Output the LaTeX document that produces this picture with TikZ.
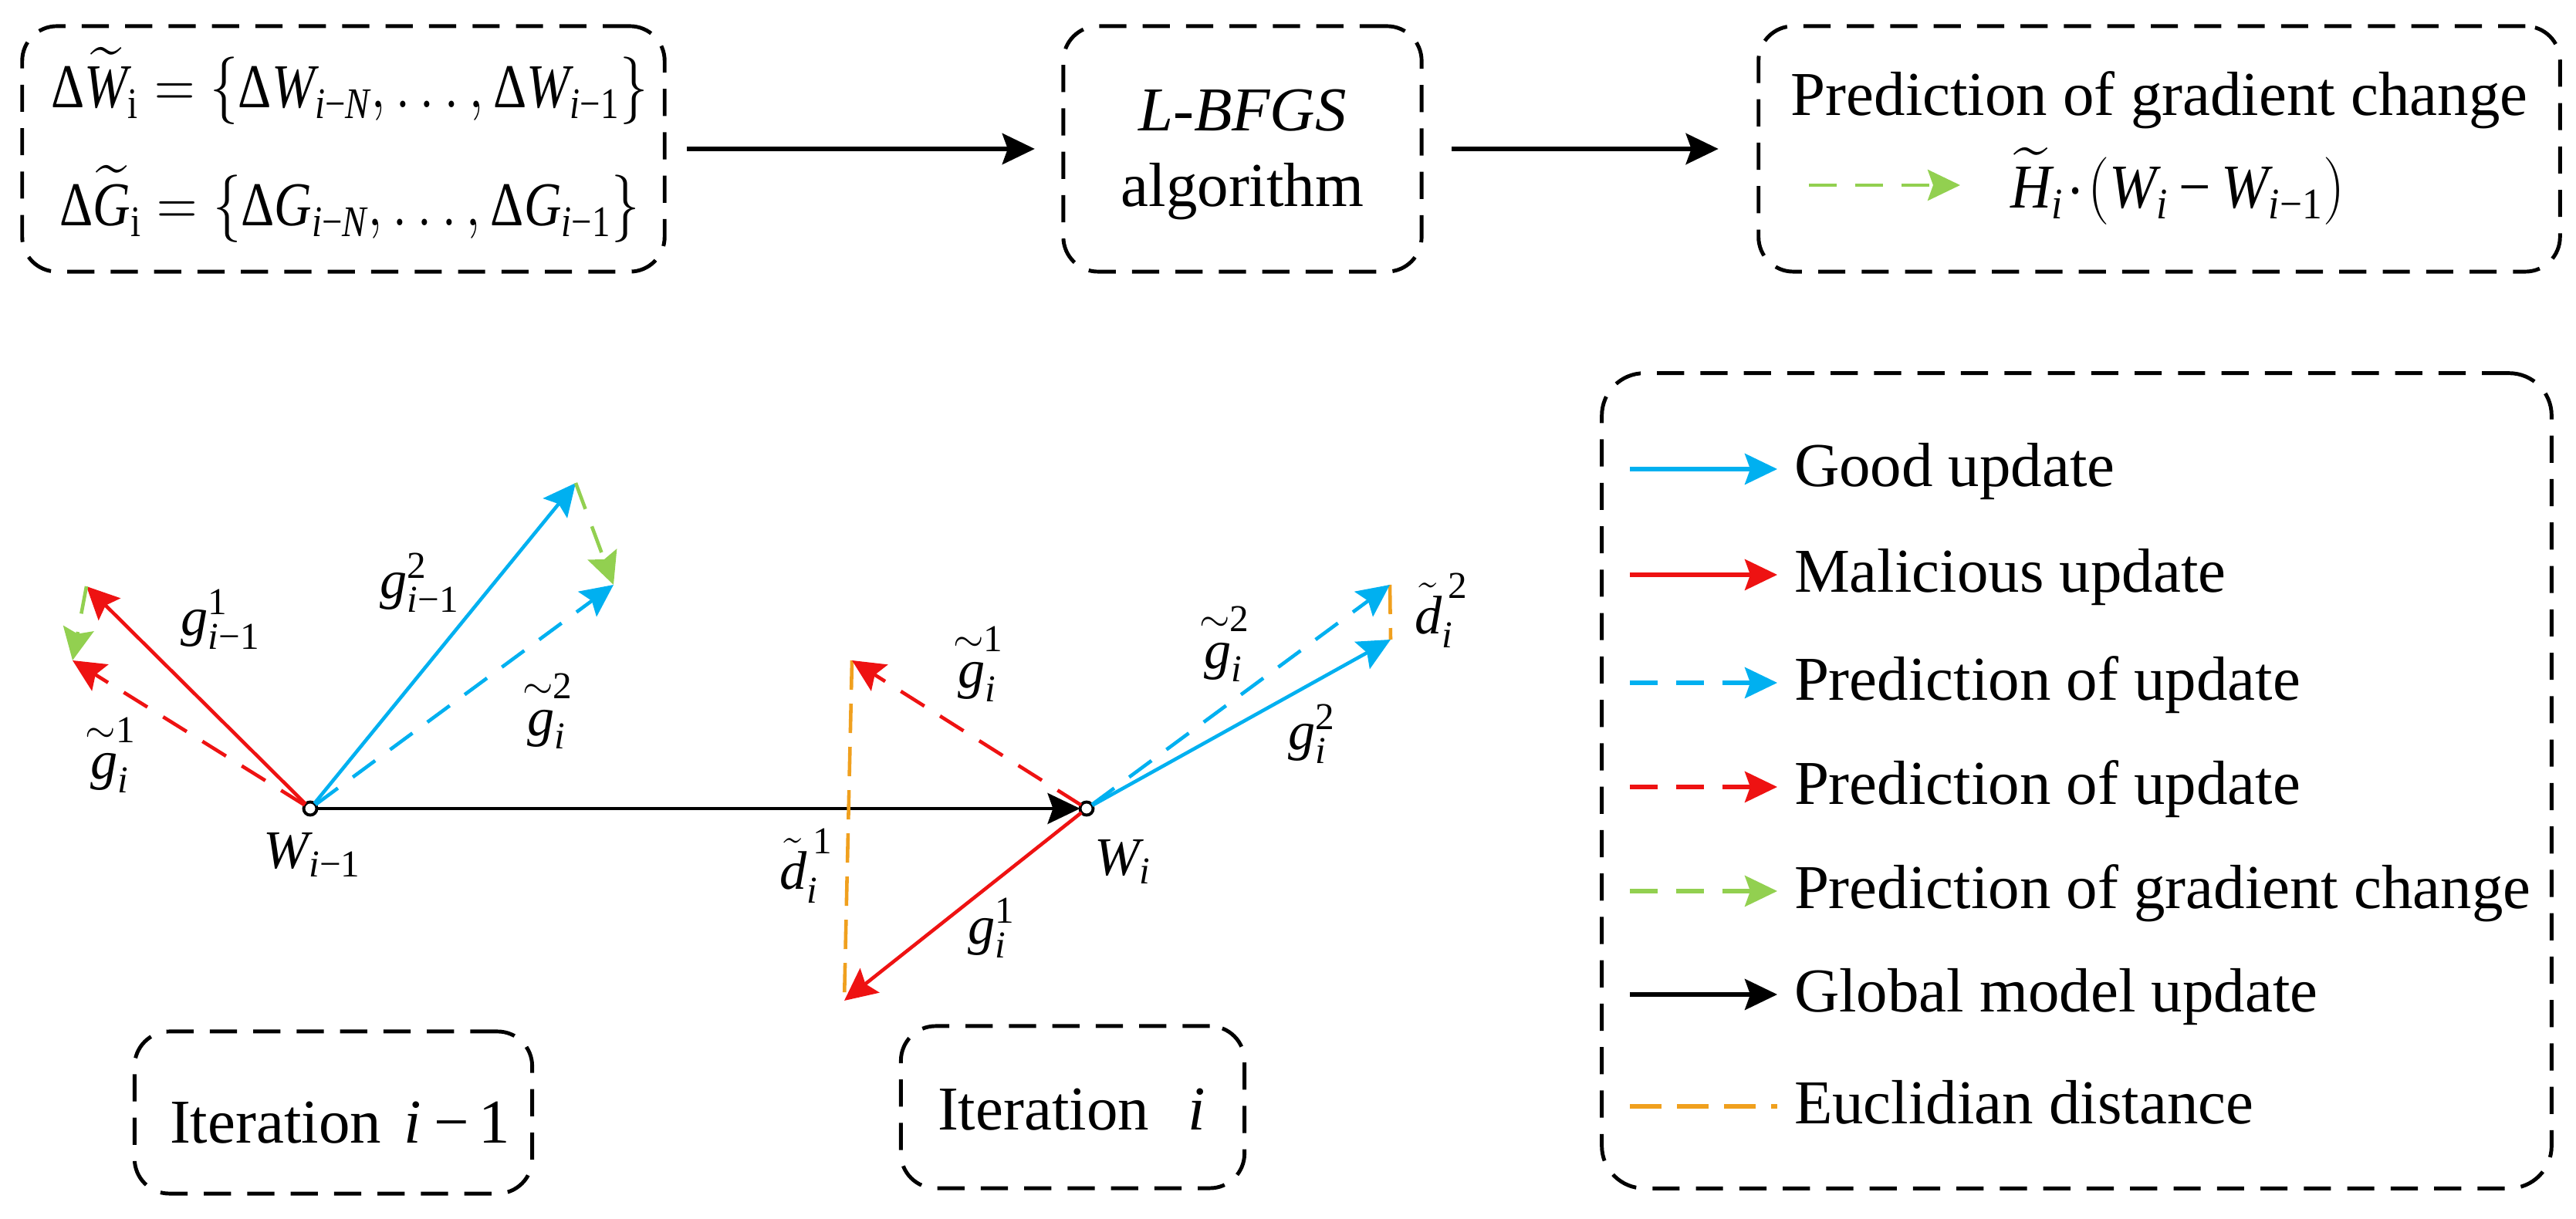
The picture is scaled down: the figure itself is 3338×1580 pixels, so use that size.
\documentclass[tikz,border=0pt]{standalone}
\usepackage{amsmath}
\usepackage{graphicx}
\usepackage{fontspec}
\setmainfont{Liberation Serif}
\usetikzlibrary{arrows.meta}
\definecolor{cblue}{RGB}{0,176,240}
\definecolor{cred}{RGB}{238,18,18}
\definecolor{cgreen}{RGB}{146,208,80}
\definecolor{corange}{RGB}{240,160,30}
\newcommand{\mv}[1]{\text{\itshape #1}}
\newcommand{\nm}[1]{\text{#1}}
\newcommand{\ione}{\text{\itshape i\upshape −1}}
\newcommand{\iN}{\text{\itshape i\upshape −\itshape N}}
\newcommand{\Dl}{\text{Δ}}
\newcommand{\gtil}[1]{\mathop{\mv{g}_{\mv{i}}}\limits^{\scriptstyle\sim\nm{#1}}}
\begin{document}
\begin{tikzpicture}[x=0.01cm,y=-0.01cm,
  every node/.style={font=\fontsize{23}{27}\selectfont, inner sep=0pt, outer sep=0pt},
  lab/.style={font=\fontsize{20}{24}\selectfont},
  dbox/.style={draw, line width=1.4pt, dash pattern=on 10pt off 6pt, rounded corners=0.45cm},
  hd/.style={-{Stealth[length=0.42cm,width=0.40cm,inset=0.07cm]}},
  karrT/.style={hd, black, line width=1.7pt},
  karr/.style={hd, black, line width=1.2pt},
  bsol/.style={hd, cblue, line width=1.3pt},
  rsol/.style={hd, cred, line width=1.3pt},
  bdash/.style={bsol, dash pattern=on 0.36cm off 0.24cm},
  rdash/.style={rsol, dash pattern=on 0.36cm off 0.24cm},
  gdash/.style={hd, cgreen, line width=1.3pt, dash pattern=on 0.36cm off 0.24cm},
  odash/.style={corange, line width=1.3pt, dash pattern=on 0.38cm off 0.18cm},
  lsol/.style={line width=1.5pt},
  pt/.style={circle, draw, black, fill=white, line width=1.1pt, minimum size=0.17cm}
]
\useasboundingbox (0,0) rectangle (3338,1580);

% ---------- top row ----------
\node[dbox, minimum width=8.32cm, minimum height=3.18cm] (boxA) at (445,193) {};
\node[dbox, minimum width=4.64cm, minimum height=3.18cm] (boxB) at (1610,193) {};
\node[dbox, minimum width=10.38cm, minimum height=3.18cm] (boxC) at (2798,193) {};

\draw[karrT, shorten <=0.29cm, shorten >=0.37cm] (boxA) -- (boxB);
\draw[karrT, shorten <=0.39cm, shorten >=0.52cm] (boxB) -- (boxC);

\node[anchor=base] (fW) at (453,140) {\scalebox{0.83}[1]{$\Dl\widetilde{\mv{W}}_{\nm{i}}=\{\Dl\mv{W}_{\iN},\ldots,\Dl\mv{W}_{\ione}\}$}};
\node[anchor=base] (fG) at (453,293) {\scalebox{0.83}[1]{$\Dl\widetilde{\mv{G}}_{\nm{i}}=\{\Dl\mv{G}_{\iN},\ldots,\Dl\mv{G}_{\ione}\}$}};
\node[anchor=base] (lb) at (1610,170) {\textit{L-BFGS}};
\node[anchor=base] (alg) at (1610,268) {algorithm};
\node[anchor=base] (pgc) at (2798,150) {Prediction of gradient change};
\coordinate (gs) at (2344,240);
\coordinate (ge) at (2540,240);
\draw[gdash] (gs) -- (ge);
\node[anchor=base west] (Hf) at (2605,270) {\scalebox{0.91}[1]{$\widetilde{\mv{H}}_{\mv{i}}\!\cdot\!(\mv{W}_{\mv{i}}\,\text{−}\,\mv{W}_{\ione})$}};

% ---------- main diagram ----------
\node[pt] (Wp) at (402,1048) {};
\node[pt] (Wi) at (1408,1048) {};
\coordinate (t1) at (112,760);
\coordinate (t1p) at (94,856);
\coordinate (t2) at (746,626);
\coordinate (t2p) at (795,758);
\coordinate (t3) at (1094,1297);
\coordinate (t3p) at (1104,856);
\coordinate (t4) at (1802,829);
\coordinate (t4p) at (1801,758);

\draw[rdash] (Wp) -- (t1p);
\draw[rsol] (Wp) -- (t1);
\draw[bdash] (Wp) -- (t2p);
\draw[bsol] (Wp) -- (t2);
\draw[gdash] (t1) -- (t1p);
\draw[gdash] (t2) -- (t2p);
\draw[karr] (Wp) -- (Wi);
\draw[odash] (t3p) -- (t3);
\draw[odash] (t4p) -- (t4);
\draw[rdash] (Wi) -- (t3p);
\draw[rsol] (Wi) -- (t3);
\draw[bdash] (Wi) -- (t4p);
\draw[bsol] (Wi) -- (t4);

\node[lab] (lg1) at (286,803) {$\mv{g}_{\ione}^{\nm{1}}$};
\node[lab] (lgt1) at (143,975) {$\gtil{1}$};
\node[lab] (lg2) at (544,755) {$\mv{g}_{\ione}^{\nm{2}}$};
\node[lab] (lgt2) at (709,918) {$\gtil{2}$};
\node[lab] (lWp) at (405,1108) {$\mv{W}_{\ione}$};
\node[lab] (rgt1) at (1267,857) {$\gtil{1}$};
\node[lab] (ld1) at (1045,1122) {$\tilde{\mv{d}}_{\mv{i}}^{\,\nm{1}}$};
\node[lab] (lWi) at (1455,1117) {$\mv{W}_{\mv{i}}$};
\node[lab] (rg1) at (1285,1203) {$\mv{g}_{\mv{i}}^{\nm{1}}$};
\node[lab] (rgt2) at (1586,831) {$\gtil{2}$};
\node[lab] (rg2) at (1700,951) {$\mv{g}_{\mv{i}}^{\nm{2}}$};
\node[lab] (ld2) at (1868,791) {$\tilde{\mv{d}}_{\mv{i}}^{\,\nm{2}}$};

% ---------- iteration boxes ----------
\node[dbox, minimum width=5.15cm, minimum height=2.10cm] (it1) at (432,1442) {};
\node[dbox, minimum width=4.45cm, minimum height=2.10cm] (it2) at (1390,1435) {};
\node[anchor=base west] (it1t) at (220,1482) {Iteration\hspace{0.30cm}\textit{i}\hspace{0.16cm}−\hspace{0.12cm}1};
\node[anchor=base west] (it2t) at (1215,1465) {Iteration\hspace{0.5cm}\textit{i}};

% ---------- legend ----------
\node[dbox, minimum width=12.30cm, minimum height=10.56cm, rounded corners=0.55cm] (legend) at (2691,1012) {};
\foreach \n/\yy in {1/608,2/745,3/885,4/1020,5/1155,6/1289,7/1434}{
  \coordinate (ls\n) at (2112,\yy);
  \coordinate (le\n) at (2303,\yy);
}
\draw[bsol, lsol] (ls1) -- (le1);
\draw[rsol, lsol] (ls2) -- (le2);
\draw[bdash, lsol] (ls3) -- (le3);
\draw[rdash, lsol] (ls4) -- (le4);
\draw[gdash, lsol] (ls5) -- (le5);
\draw[karr, lsol] (ls6) -- (le6);
\draw[corange, line width=1.5pt, dash pattern=on 0.41cm off 0.20cm] (ls7) -- (le7);
\node[anchor=base west] (lt1) at (2325,631) {Good update};
\node[anchor=base west] (lt2) at (2325,768) {Malicious update};
\node[anchor=base west] (lt3) at (2325,908) {Prediction of update};
\node[anchor=base west] (lt4) at (2325,1043) {Prediction of update};
\node[anchor=base west] (lt5) at (2325,1178) {Prediction of gradient change};
\node[anchor=base west] (lt6) at (2325,1312) {Global model update};
\node[anchor=base west] (lt7) at (2325,1457) {Euclidian distance};
\end{tikzpicture}
\end{document}
